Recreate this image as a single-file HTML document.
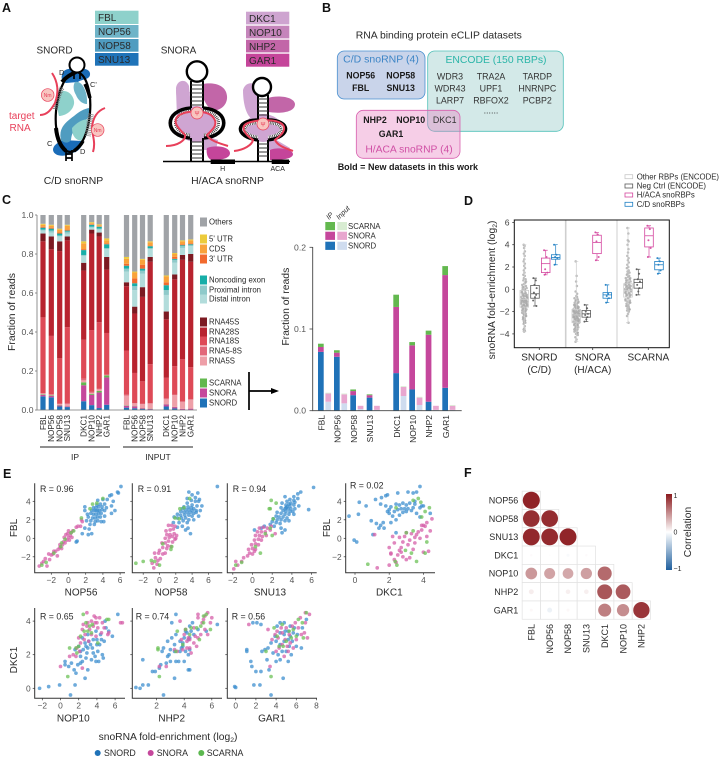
<!DOCTYPE html>
<html lang="en">
<head>
<meta charset="utf-8">
<title>snoRNP eCLIP figure</title>
<style>
html,body{margin:0;padding:0;background:#fff;width:720px;height:759px;overflow:hidden}
svg{display:block;filter:blur(.3px)}
text{font-family:"Liberation Sans",sans-serif;fill:#2a2a2a}
.pl{font-size:12.5px;font-weight:bold;fill:#111}
.t95{font-size:10px}
.b{font-weight:bold;font-size:8.8px;text-anchor:middle;fill:#1a1a1a}
.r{font-size:8.9px;text-anchor:middle;fill:#333}
</style>
</head>
<body>
<svg id="fig" xmlns="http://www.w3.org/2000/svg" width="720" height="759" viewBox="0 0 720 759">
<defs>
<linearGradient id="cbar" x1="0" y1="0" x2="0" y2="1">
<stop offset="0" stop-color="#8b1a1e"/><stop offset="0.5" stop-color="#ffffff"/><stop offset="1" stop-color="#1f5f9e"/>
</linearGradient>
</defs>
<rect width="720" height="759" fill="#fff"/>

<!-- Panel letters -->
<text class="pl" x="2" y="12">A</text>
<text class="pl" x="322" y="12">B</text>
<text class="pl" x="2" y="204">C</text>
<text class="pl" x="464" y="205">D</text>
<text class="pl" x="3" y="478">E</text>
<text class="pl" x="464" y="477">F</text>

<!-- Panel A -->
<g>
<g>
<rect x="95" y="10.7" width="43.5" height="13.3" fill="#8ed1cb"/>
<rect x="95" y="25" width="43.5" height="12.7" fill="#6fb4c8"/>
<rect x="95" y="39" width="43.5" height="12.7" fill="#4f9cc0"/>
<rect x="95" y="53" width="43.5" height="12.7" fill="#1f73b8"/>
<text class="t95" x="98" y="21">FBL</text><text class="t95" x="98" y="35">NOP56</text><text class="t95" x="98" y="49">NOP58</text><text class="t95" x="98" y="63">SNU13</text>
</g>
<g>
<rect x="246" y="11.7" width="43.3" height="12.7" fill="#cea4d0"/>
<rect x="246" y="25.7" width="43.3" height="12.7" fill="#c585bb"/>
<rect x="246" y="39.7" width="43.3" height="12.7" fill="#c266a8"/>
<rect x="246" y="53.7" width="43.3" height="13" fill="#c5459a"/>
<text class="t95" x="249" y="22">DKC1</text><text class="t95" x="249" y="36">NOP10</text><text class="t95" x="249" y="50">NHP2</text><text class="t95" x="249" y="64">GAR1</text>
</g>
<text x="36.5" y="53.5" font-size="10">SNORD</text>
<text x="160.7" y="53.5" font-size="10">SNORA</text>
<text x="73.5" y="184" font-size="10.4" text-anchor="middle">C/D snoRNP</text>
<text x="227.5" y="184" font-size="10.4" text-anchor="middle">H/ACA snoRNP</text>
<text x="9" y="119" font-size="10" style="fill:#e8405a">target</text>
<text x="9.5" y="131" font-size="10" style="fill:#e8405a">RNA</text>

<g>
<path d="M62,75C62,69 72,67 78,70C84,67 91,70 90,75C89,80 82,79 78,82L66,83C62,82 61,78 62,75Z" fill="#1a6cb8"/>
<path d="M53,150C53,145 58,143 62,140L83,141C82,148 78,152 72,153C66,157 54,157 53,150Z" fill="#1a6cb8"/>
<path d="M60,92C68,88 75,97 74,104C72,113 63,116 59,116C57,108 56,98 60,92Z" fill="#8ed1cb"/>
<path d="M75,82C82,80 88,92 87,104C82,104 78,100 76,95C73,90 73,85 75,82Z" fill="#6fb4c8"/>
<path d="M61,140C58,128 66,122 74,116C80,111 84,109 89,108L89,118C80,122 72,128 71,140C68,144 64,143 61,140Z" fill="#4f9cc0"/>
<path d="M72,128C77,122 85,118 88,120C90,127 88,134 84,140C78,142 72,138 72,128Z" fill="#8ed1cb"/>
<ellipse cx="73" cy="112" rx="17" ry="40" transform="rotate(5 73 112)" fill="none" stroke="#000" stroke-width="2.2"/>
<path d="M62,82C66,77 70,75 76,72" fill="none" stroke="#000" stroke-width="4"/>
<path d="M85,84C88,90 89,94 90,98" fill="none" stroke="#000" stroke-width="3.5"/>
<path d="M56,128C57,138 60,146 66,151" fill="none" stroke="#000" stroke-width="4"/>
<path d="M74,151C78,148 81,145 83,141" fill="none" stroke="#000" stroke-width="3.5"/>
<circle cx="77" cy="65" r="7.5" fill="#fff" stroke="#000" stroke-width="2"/>
<path d="M74,72V79M80,72V79M66,150V161M72,150V161M66,154H72M66,158H72" stroke="#000" stroke-width="1.7" fill="none"/>
<path d="M62,88C58,95 57,102 55,110" fill="none" stroke="#666" stroke-width="5" stroke-dasharray=".8 1"/>
<path d="M91,114C89,122 89,128 88,136" fill="none" stroke="#888" stroke-width="6" stroke-dasharray=".8 1"/>
<path d="M52,73C58,82 59,92 55,103C51,110 47,115 40,115" fill="none" stroke="#e8405a" stroke-width="2"/>
<path d="M105,108C97,111 93,118 92,127C92,135 96,142 93,152" fill="none" stroke="#e8405a" stroke-width="2"/>
<circle cx="47.7" cy="95" r="6.3" fill="#f8c5c0" stroke="#e8405a" stroke-width=".7"/>
<circle cx="97.7" cy="130" r="6.3" fill="#f8c5c0" stroke="#e8405a" stroke-width=".7"/>
<text x="47.7" y="97" font-size="5" text-anchor="middle" style="fill:#e8405a">Nm</text>
<text x="97.7" y="132" font-size="5" text-anchor="middle" style="fill:#e8405a">Nm</text>
<text x="59" y="75" font-size="7.5">D</text><text x="90" y="87" font-size="7.5">C'</text><text x="47" y="146" font-size="7.5">C</text><text x="80" y="154" font-size="7.5">D</text>
</g>

<g>
<path d="M176,88C177,80 186,78 189,86L191,108C183,112 176,106 176,88Z" fill="#cfa5d2"/>
<ellipse cx="196" cy="124" rx="20" ry="18" fill="#cfa5d2"/>
<path d="M176,90L190,92L186,120L177,118Z" fill="#cfa5d2"/>
<path d="M203,84C212,82 226,84 227,96C228,106 218,112 212,110C208,108 205,102 203,98Z" fill="#c266a8"/>
<path d="M203,135L218,140L216,150L203,150Z" fill="#cfa5d2"/>
<path d="M207,148C215,145 229,146 230,153C230,159 220,160 212,160C207,159 206,152 207,148Z" fill="#c5459a"/>
<path d="M191,108C163,110 164,136 190,138" fill="none" stroke="#000" stroke-width="3.6"/>
<path d="M203,108C231,110 230,136 204,138" fill="none" stroke="#000" stroke-width="3.6"/>
<path d="M191,111C170,113 171,133 190,135" fill="none" stroke="#fff" stroke-width="3"/>
<path d="M203,111C224,113 223,133 204,135" fill="none" stroke="#fff" stroke-width="3"/>
<path d="M191,111C170,113 171,133 190,135" fill="none" stroke="#333" stroke-width="3" stroke-dasharray=".8 1"/>
<path d="M203,111C224,113 223,133 204,135" fill="none" stroke="#333" stroke-width="3" stroke-dasharray=".8 1"/>
<circle cx="197" cy="71.5" r="10.2" fill="#fff" stroke="#000" stroke-width="2.4"/>
<path d="M191,81V108M203,81V108M191,138V162M203,138V162" stroke="#000" stroke-width="2" fill="none"/>
<path d="M191,85H203M191,89H203M191,93H203M191,97H203M191,101H203M191,105H203M191,142H203M191,146H203M191,150H203M191,154H203M191,158H203" stroke="#333" stroke-width="1" fill="none"/>
<path d="M166,146C178,146 186,140 185,135C178,128 172,122 178,116C186,110 205,110 212,116C220,124 212,130 207,135C209,140 218,143 228,146" fill="none" stroke="#e8405a" stroke-width="2"/>
<circle cx="197" cy="113" r="6" fill="#f8c5c0" stroke="#e8405a" stroke-width=".7"/>
<text x="197" y="115.5" font-size="6" text-anchor="middle" style="fill:#e8405a">Ψ</text>
</g>
<g>
<path d="M243,90C245,82 255,80 259,90L258,118C250,124 243,110 243,90Z" fill="#cfa5d2"/>
<ellipse cx="263" cy="128" rx="19" ry="14" fill="#cfa5d2"/>
<path d="M268,135L290,148L288,152L268,150Z" fill="#cfa5d2"/>
<path d="M268,98C276,95 294,96 295,104C295,112 282,114 268,112Z" fill="#c266a8"/>
<path d="M270,150C276,147 292,148 293,154C293,159 282,160 270,160Z" fill="#c5459a"/>
<path d="M258,120C235,120 234,137 258,140" fill="none" stroke="#000" stroke-width="3.4"/>
<path d="M268,120C291,120 292,137 268,140" fill="none" stroke="#000" stroke-width="3.4"/>
<path d="M258,123C241,123 240,135 258,137" fill="none" stroke="#fff" stroke-width="2.8"/>
<path d="M268,123C285,123 286,135 268,137" fill="none" stroke="#fff" stroke-width="2.8"/>
<path d="M258,123C241,123 240,135 258,137" fill="none" stroke="#333" stroke-width="2.8" stroke-dasharray=".8 1"/>
<path d="M268,123C285,123 286,135 268,137" fill="none" stroke="#333" stroke-width="2.8" stroke-dasharray=".8 1"/>
<circle cx="262" cy="87" r="9" fill="#fff" stroke="#000" stroke-width="2.4"/>
<path d="M258,95V120M268,95V120M258,140V162M268,140V162" stroke="#000" stroke-width="2" fill="none"/>
<path d="M258,99H268M258,103H268M258,107H268M258,111H268M258,115H268M258,144H268M258,148H268M258,152H268M258,156H268" stroke="#333" stroke-width="1" fill="none"/>
<path d="M234,151C244,150 252,145 253,140C246,135 240,128 246,124C253,120 275,118 282,124C288,130 280,136 275,140C278,146 285,148 293,151" fill="none" stroke="#e8405a" stroke-width="2"/>
<circle cx="263" cy="124" r="6" fill="#f8c5c0" stroke="#e8405a" stroke-width=".7"/>
<text x="263" y="126.5" font-size="6" text-anchor="middle" style="fill:#e8405a">Ψ</text>
</g>
<path d="M163,161.5H290" stroke="#000" stroke-width="1.5"/>
<rect x="210.7" y="159.5" width="24.3" height="4.5" fill="#000"/>
<rect x="271.7" y="159.5" width="17.3" height="4.5" fill="#000"/>
<text x="222.7" y="171" font-size="7" text-anchor="middle">H</text>
<text x="277.7" y="171" font-size="7" text-anchor="middle">ACA</text>
</g>

<!-- Panel B -->
<g>
<text x="355.7" y="38.5" font-size="10.4">RNA binding protein eCLIP datasets</text>
<rect x="337.3" y="51" width="87.7" height="48" rx="7" fill="#c9d4ea" stroke="#4a90d0" stroke-width=".8"/>
<rect x="427.7" y="51" width="135.6" height="80.3" rx="7" fill="#d3e9e8" stroke="#50c0b8" stroke-width=".8"/>
<rect x="356.3" y="110.3" width="103.7" height="48" rx="7" fill="#e87fc0" fill-opacity=".38" stroke="#d85fae" stroke-width=".8"/>
<text x="381" y="62.5" font-size="10.5" text-anchor="middle" style="fill:#3d85c6">C/D snoRNP (4)</text>
<text x="496" y="63" font-size="10.4" text-anchor="middle" style="fill:#2bb5a8">ENCODE (150 RBPs)</text>
<text x="409" y="152.5" font-size="10.3" text-anchor="middle" style="fill:#d050a5">H/ACA snoRNP (4)</text>
<text class="b" x="360.7" y="78.5">NOP56</text><text class="b" x="400.7" y="78.5">NOP58</text>
<text class="b" x="360.7" y="91">FBL</text><text class="b" x="400.7" y="91">SNU13</text>
<text class="r" x="450" y="79.5">WDR3</text><text class="r" x="491" y="79.5">TRA2A</text><text class="r" x="537.3" y="79.5">TARDP</text>
<text class="r" x="450" y="91.7">WDR43</text><text class="r" x="491" y="91.7">UPF1</text><text class="r" x="537.3" y="91.7">HNRNPC</text>
<text class="r" x="450" y="103.5">LARP7</text><text class="r" x="491" y="103.5">RBFOX2</text><text class="r" x="537.3" y="103.5">PCBP2</text>
<text class="r" x="491" y="113.5">......</text>
<text class="b" x="375" y="123">NHP2</text><text class="b" x="410.7" y="123">NOP10</text><text class="r" x="444.7" y="123">DKC1</text>
<text class="b" x="391" y="137">GAR1</text>
<text x="337.7" y="170" font-size="9" font-weight="bold" style="fill:#1a1a1a">Bold = New datasets in this work</text>
</g>

<g id="panelC"></g>
<g id="panelC2"></g>
<g id="panelD"></g>
<g id="panelE"></g>
<g id="panelF"></g>
</svg>

<script>
// ---------- Panel C data: fraction of reads per sample (8 IP then 8 INPUT) ----------
const sampleNames = ['FBL','NOP56','NOP58','SNU13','DKC1','NOP10','NHP2','GAR1','FBL','NOP56','NOP58','SNU13','DKC1','NOP10','NHP2','GAR1'];
const readsSnord = [.07,.065,.018,.015,.045,.025,.01,.027,.012,.009,.005,.003,.018,.008,.001,.001];
const readsSnora = [.008,.007,.005,.003,.082,.053,.08,.14,.01,.01,.004,.003,.011,.007,.005,.006];
const readsScarna = [.003,.003,.002,.001,.015,.005,.008,.01,.002,.001,.001,.001,.001,.001,0,0];
const readsRna5s = [.003,.003,.005,.012,.01,.005,.008,.003,.05,.015,.02,.025,.025,.06,.035,.045];
const readsRna58s = [.002,.002,.002,.005,.008,.005,.004,.002,.005,0,.003,.003,.005,.002,.004,.003];
const readsRna18s = [.389,.30,.233,.389,.20,.317,.34,.213,.226,.155,.114,.20,.105,.147,.215,.165];
const readsRna28s = [.39,.445,.55,.445,.355,.495,.44,.325,.33,.305,.433,.525,.30,.445,.51,.54];
const readsRna45s = [.04,.065,.05,.02,.04,.02,.02,.065,.02,.035,.05,.025,.04,.025,.025,.04];
const readsDistal = [.015,.02,.025,.015,.035,.01,.015,.04,.055,.085,.07,.04,.085,.06,.035,.04];
const readsProximal = [.005,.01,.005,.01,.005,.005,.005,.005,.015,.02,.015,.005,.025,.015,.01,.005];
const readsNoncoding = [.01,.01,.01,.005,.025,.01,.01,.02,.015,.015,.01,.01,.025,.005,.005,.005];
const reads3utr = [.005,.005,.005,.005,.005,.003,.002,.005,.01,.025,.02,.003,.015,.01,.005,.005];
const readsCds = [.01,.01,.015,.02,.03,.005,.006,.015,.025,.03,.025,.017,.03,.015,.015,.015];
const reads5utr = [.005,.005,.005,.005,.01,.005,.004,.01,.01,.005,.005,.005,.005,.005,.005,.005];
const readsOthers = [.045,.05,.07,.05,.135,.037,.048,.12,.215,.29,.225,.135,.31,.195,.13,.125];
const stackSeries = [readsSnord,readsSnora,readsScarna,readsRna5s,readsRna58s,readsRna18s,readsRna28s,readsRna45s,readsDistal,readsProximal,readsNoncoding,reads3utr,readsCds,reads5utr,readsOthers];
const stackTicks = [0,.2,.4,.6,.8,1];

// ---------- Panel C right data ----------
const snoRbps = ['FBL','NOP56','NOP58','SNU13','DKC1','NOP10','NHP2','GAR1'];
const ipSnord = [.072,.066,.019,.016,.046,.026,.011,.028];
const ipSnora = [.006,.005,.005,.003,.081,.054,.082,.138];
const ipScarna = [.004,.003,.002,.001,.015,.004,.005,.011];
const inputSnord = [.011,.009,.002,.001,.018,.007,.001,.001];
const inputSnora = [.010,.011,.004,.005,.011,.009,.005,.005];
const inputScarna = [.001,.001,0,0,.001,.001,0,.001];
const snoTicks = [0,.1,.2];

// ---------- Panel D data ----------
const groupNames = ['SNORD','SNORA','SCARNA'];
const boxQ1 = [-1.6,-.8,1.5,2.7, -3,-2.5,3.2,-.8, -.7,.1,3.8,1.75];
const boxMedian = [-.9,-.4,2.3,2.85, -2.3,-2.2,4.2,-.5, -.1,.6,4.8,2.2];
const boxQ3 = [-.1,.35,2.8,3.1, -1.8,-1.9,4.85,-.3, .5,.9,5.5,2.5];
const whiskerLow = [-3.8,-1.5,1.3,2.2, -4.7,-2.9,2.6,-1.2, -3,-.5,2.9,1.4];
const whiskerHigh = [4,1,3.5,4, 2.5,-1.4,5.1,.4, 5.5,1.8,5.7,2.8];
const otherSnord = [4,3.9,3.7,3.4,3.2,3,2.7,2.5,2.3,2.1,1.9,1.7,1.5,1.3,1.2,1,.9,.8,.6,.5,.4,.3,.2,.1,0,-.1,-.2,-.3,-.4,-.5,-.5,-.6,-.6,-.7,-.7,-.8,-.8,-.9,-.9,-1,-1,-1,-1.1,-1.1,-1.2,-1.2,-1.3,-1.3,-1.4,-1.4,-1.5,-1.5,-1.6,-1.6,-1.7,-1.8,-1.8,-1.9,-2,-2.1,-2.2,-2.3,-2.4,-2.5,-2.6,-2.7,-2.8,-2.9,-3,-3.1,-3.3,-3.5,-3.6,-3.7,-3.8,.7,.2,0,-.3,-.4,-.6,-.7,-.9,-1,-1.1,-1.2,-1.3,-1.4,-1.5,-1.6,-1.7,-1.9,-2,-2.2,-2.4,-2.6,-2.8,-3];
const otherSnora = [2.5,1.2,.7,.3,-.2,-.4,-.6,-.8,-.9,-1,-1.1,-1.2,-1.3,-1.4,-1.5,-1.5,-1.6,-1.6,-1.7,-1.7,-1.8,-1.8,-1.9,-1.9,-2,-2,-2,-2.1,-2.1,-2.2,-2.2,-2.2,-2.3,-2.3,-2.3,-2.4,-2.4,-2.5,-2.5,-2.5,-2.6,-2.6,-2.7,-2.7,-2.8,-2.8,-2.9,-2.9,-3,-3,-3.1,-3.1,-3.2,-3.2,-3.3,-3.4,-3.5,-3.6,-3.7,-3.8,-3.9,-4,-4.1,-4.3,-4.5,-4.7,-.7,-1,-1.2,-1.4,-1.6,-1.7,-1.9,-2,-2.1,-2.2,-2.3,-2.4,-2.5,-2.6,-2.7,-2.8,-3,-3.2,-3.4,-3.6,-3.9];
const otherScarna = [5.5,5,4.4,4.3,4,3.6,3.3,3,2.8,2.6,2.4,2.2,2,1.9,1.7,1.6,1.5,1.3,1.2,1.1,1,.9,.8,.7,.6,.5,.5,.4,.3,.3,.2,.1,.1,0,0,-.1,-.1,-.2,-.3,-.3,-.4,-.5,-.5,-.6,-.7,-.8,-.9,-1,-1.1,-1.2,-1.3,-1.4,-1.5,-1.6,-1.7,-1.8,-1.9,-2,-2.2,-2.4,-3,1.4,1,.8,.6,.4,.2,0,-.2,-.4,-.6,-.8,-1,-1.2,-1.5,-1.8];
const negSnord = [1,.8,.4,.1,-.3,-.5,-.7,-1,-1.5];
const hacaSnord = [3.5,2.9,1.8,1.5,1.3];
const cdSnord = [4,3.1,2.9,2.8,2.2];
const negSnora = [-1.4,-1.7,-2,-2.2,-2.3,-2.5,-2.7,-2.9];
const hacaSnora = [5.1,4.9,4.3,2.9,2.6];
const cdSnora = [.4,-.4,-.6,-.8,-1.2];
const negScarna = [1.8,1.4,.9,.7,.4,.1,-.2,-.5];
const hacaScarna = [5.7,5.4,4.4,3.7,2.9];
const cdScarna = [2.8,2.5,2.2,1.7,1.4];
const boxYTicks = [-4,-2,0,2,4,6];

// ---------- Panel E data: [x value, y value] ----------
const nop56Snord = [[1,-.3],[.9,-.4],[1.6,.5],[2.3,.4],[2.7,.5],[1.9,1.1],[2.4,1],[2.5,1.5],[3,1.5],[2.1,1.9],[2.6,1.9],[3.1,1.8],[3.4,1.9],[3.8,1.8],[4.1,1.8],[2.3,2.3],[2.8,2.2],[3.1,2.2],[3.4,2.3],[3.7,2.3],[4.2,2.4],[5,2.7],[5.4,3],[2.2,2.6],[2.6,2.7],[2.9,2.6],[3.2,2.6],[3.5,2.7],[3.8,2.7],[1.9,3.4],[1.9,3],[2.7,3],[3,3],[3.2,3],[3.4,3],[3.6,3],[3.9,3.1],[4.2,3],[2.9,3.3],[3.2,3.3],[3.5,3.4],[3.9,3.4],[4.4,3.3],[3.3,3.6],[3.7,3.7],[4.2,3.7],[5,3.5],[3.4,4.1],[4,4.2],[4.5,4.2],[5.2,4],[4.8,4.6],[5,4.7],[5.8,4.9],[5.7,5],[6.1,5.6]];
const nop56Snora = [[-3.4,-3],[-3.1,-2.7],[-2.9,-2.5],[-2.5,-3],[-2.7,-2.2],[-2.2,-2.3],[-2,-1.8],[-1.8,-1.7],[-1.5,-1.4],[-1.3,-1.9],[-1.2,-1.2],[-1,-1],[-.8,-1.1],[-.7,-.7],[-.6,-.4],[-.4,-.5],[-.5,.1],[-.2,-.2],[0,.1],[.1,-.2],[.2,.3],[-.1,.5],[.3,.6],[.4,.1],[-.3,.4],[0,.8],[.5,.8],[.9,1.2],[1.1,1.3],[1.4,1.3],[1.6,1.8],[1.5,2],[-1,-.7],[-2.3,-1.7],[-1.7,-1.4]];
const nop56Scarna = [[-3.1,-2.9],[-2.6,-2.6],[-1.7,-1.6],[-.9,-.9],[-.8,-.5],[-.4,-.1],[.3,.6],[.6,.8],[1.5,2.2],[2.5,3.2],[4,4.3],[3.3,3.8],[2.8,3.7]];
const nop58Snord = [[7.1,5.6],[4.7,4.9],[3.6,5],[4,4.7],[4.4,4.4],[3.4,4.3],[4.9,4.2],[4.4,4],[4.8,4],[3.9,4.1],[3.4,3.8],[4,3.6],[4.6,3.5],[3,3.4],[3.5,3.4],[3.9,3.3],[4.2,3.2],[2.8,3.2],[3.2,3.1],[3.6,3.1],[4,3],[4.5,3],[5,3],[2.6,2.9],[3,2.8],[3.4,2.8],[3.8,2.8],[4.2,2.7],[2.2,2.6],[2.6,2.5],[3.1,2.5],[3.6,2.5],[4,2.4],[4.8,2.4],[1.8,2.3],[2.2,2.2],[2.7,2.2],[3.2,2.2],[3.6,2],[4.2,2],[2.9,1.9],[1.7,1.7],[2.4,1.7],[3.4,1.7],[2.8,1.3],[3.5,1.1],[3.2,.9],[3.8,.5],[2.2,1.2],[4.5,2.8],[5.2,3.5]];
const nop58Snora = [[-.7,-3.2],[-.3,-2.8],[-.9,-2.7],[-.2,-2.4],[-.5,-2.1],[.1,-2.2],[-.6,-1.6],[.4,-1.7],[.7,-1.6],[0,-1.3],[.4,-1],[.9,-1.1],[1,-.8],[.3,-.5],[.7,-.5],[1.1,-.3],[1.6,-.4],[.7,0],[1.2,.1],[1.6,.2],[2,0],[.9,.4],[1.3,.4],[1.8,.5],[2.1,.3],[.8,.8],[1.3,.9],[1.7,1],[1.1,1.4],[1.5,1.4],[1.9,1.3],[1.4,-.9],[-.1,-1.6],[1.9,-.1]];
const nop58Scarna = [[-2.9,-2.7],[-2,-2.5],[-1,-2.4],[-.6,-2.5],[0,-2.9],[.4,-.6],[1.5,-.9],[1.4,-1.2],[2.4,2.1],[2.5,3.2],[3,3.3],[3.7,4.3],[1.9,2.2]];
const snu13Snord = [[6.2,5.5],[5.7,3.1],[4.9,5],[4.6,4.8],[4.2,4.5],[4.6,4.3],[3.3,4.5],[3.8,4.2],[4.2,4.1],[3.5,4],[3.9,3.8],[4.3,3.9],[3,3.8],[3.4,3.6],[3.8,3.5],[4.2,3.6],[4.7,3.5],[2.9,3.3],[3.3,3.2],[3.6,3.2],[3.9,3.2],[4.3,3.2],[3.1,3],[3.4,2.9],[3.8,2.9],[4.1,2.9],[2.5,2.8],[2.9,2.7],[3.3,2.6],[3.7,2.6],[4.2,2.6],[2.4,2.4],[2.7,2.3],[3.1,2.3],[3.5,2.2],[2.1,2.1],[2.5,2],[2.9,2],[3.3,1.9],[3.7,1.9],[2,1.8],[2.4,1.7],[2.8,1.6],[1.8,1.5],[2.2,1.3],[2.9,1.1],[3,.6],[3.3,.9],[1.2,1.3],[.9,1.1],[.2,.9],[3.5,3.4],[3.7,3.7],[3.4,3.3]];
const snu13Snora = [[-1.9,-3.3],[-1.5,-2.9],[-1.7,-2.5],[-1.1,-2.5],[-.9,-2.1],[-.5,-1.9],[-.3,-1.6],[0,-1.7],[-.4,-1.2],[0,-1.1],[.3,-1.2],[-.1,-.7],[.3,-.6],[.6,-.7],[.2,-.2],[.6,-.1],[.9,-.2],[.3,.3],[.7,.3],[1,.2],[1.4,.3],[.5,.7],[.9,.7],[1.3,.7],[.7,1.1],[1.1,1.2],[1.5,1.1],[1.8,.9],[2.3,.5],[1.9,1.3],[.2,-1.4]];
const snu13Scarna = [[-1.7,-2.9],[-1.1,-2.6],[.8,-1.6],[.3,-.9],[1.3,.5],[1.8,1.1],[2,.3],[2.1,2.1],[1.9,4.1],[2.4,3.8],[1.7,3.2],[1.8,3.2]];
const dkc1Snord = [[-.35,2.4],[.25,3.9],[.2,2.6],[.65,3.5],[1.2,4.2],[1.5,3.7],[1.55,4.4],[1.8,4.6],[1.9,4.7],[2.5,4.9],[3.1,5],[3.4,4.9],[3.6,5],[3.8,5.6],[.95,1.9],[1.25,1.6],[1.5,1.4],[1.65,1.7],[1.4,1.1],[1.7,1.1],[1.8,3.5],[1.9,2.9],[2,3.1],[2,2.7],[2.1,3.4],[2.2,2.4],[2.3,2.9],[2.4,3.7],[2.4,2],[2.5,3.1],[2.6,2.5],[2.6,3.6],[2.7,3.2],[2.8,2.8],[2.8,3.8],[2.9,3.2],[3,3.6],[3,2.9],[3.1,3.2],[3.2,3.8],[3.3,3],[3.4,3.3],[3.5,4],[3.5,3.7],[3.6,2.7],[3.8,3.3],[3.9,3.5],[4,3.5],[4.4,2.7],[-.05,-.2],[.1,-.4],[2.4,.6],[1.05,.4],[3.8,2.3],[2.1,1.7]];
const dkc1Snora = [[1.15,.4],[2.2,.2],[2.3,-.5],[2,-1],[2.1,-1.7],[2.5,-1.8],[2.3,-2.3],[2,-2.9],[2.4,-2.6],[2.7,-1.5],[2.8,-2],[3,-2.3],[3.2,-2.1],[2.7,-1],[2.8,-.4],[2.9,.2],[3,.6],[3.1,-.7],[3.2,-.2],[3.4,-1.2],[3.5,-.5],[3.5,.1],[3.6,.4],[3.7,.7],[3.8,0],[3.9,.9],[4,-1.5],[4,1.4],[4.1,1.3],[4.2,1.7],[4.2,.2],[4.3,-1.4],[4.5,2.1],[4.4,.8],[3.9,1.4],[1.3,-3.2],[2.1,-1.6],[2.6,-1.3],[3.3,.5],[2.6,.1]];
const dkc1Scarna = [[.75,-2.8],[2.35,-2.5],[2.45,-2.9],[3,.6],[2.95,-1.3],[3.3,-1.6],[3.4,.8],[3.6,-2.5],[4.1,-1.6],[4.2,-.4],[3.4,4.1],[3.7,4.3],[3.85,3.9],[4.1,2.9],[4.35,3.3],[3.9,2.3],[2.4,3.3]];
const nop10Snord = [[-2.3,0],[-1.3,.1],[-.1,.2],[1.1,-.4],[1.6,.2],[2.7,.6],[.9,1.3],[.5,1.6],[.5,1.4],[1.2,1.5],[1.5,1.1],[1.7,.9],[1.9,1.4],[2.2,1.5],[2.4,1.6],[2.8,1.8],[3,1.1],[3.4,1.7],[3.9,1.6],[4.2,1.6],[4.7,1.8],[4.6,2],[4.1,2.2],[3.6,2.1],[2.9,2.1],[2.2,1.9],[2.5,2.3],[3,2.4],[3.5,2.4],[4,2.6],[4.3,2.6],[4.8,2.8],[2,2.5],[2.7,2.7],[3.1,2.8],[3.6,2.9],[4.5,2.9],[5.7,3.1],[5.3,3.4],[5,3.6],[4.9,4],[6.3,4.4],[2.4,3],[3,3.2],[3.9,3.4],[4.4,3.2],[2.2,2.2],[3.3,2.6],[4,2.9],[3.8,1.9],[1.6,2.3],[2.8,2.5]];
const nop10Snora = [[0,1.3],[1,1.9],[1.4,2],[2.4,1.2],[1.8,2.4],[2.2,2.7],[2,3],[2.4,3.5],[2.7,3.2],[2.9,3.7],[2.6,2.9],[3,3.9],[3.1,2.8],[3.2,3.5],[3.4,3.2],[3.4,4],[3.6,3.7],[3.7,4.3],[3.9,4.2],[3.9,3.1],[4,3.9],[4.1,3.6],[4.3,4.2],[4.5,3.3],[4.6,3.9],[4.8,3.6],[5.2,3.2],[5.3,3.3],[6.6,3.9],[6.8,3.9],[2.9,4.5],[3.8,3.9],[2.1,2.2],[2.5,3.8],[1.7,1.9]];
const nop10Scarna = [[.8,.7],[1,2.4],[1.7,2.4],[1.8,2.1],[2,2.5],[2.2,3.1],[2.5,4.4],[2.6,3.4],[2.8,3.9],[3,3.4],[3.2,3.7],[3.4,3.3],[3.5,3.8],[4.1,2.7],[5.1,4.1],[5.3,4.1]];
const nhp2Snord = [[.5,.05],[.8,0],[1,.2],[1.4,.2],[2.5,-.4],[1,1.7],[1.7,1],[1.9,1],[2.2,1.2],[2.3,1.4],[2.7,1.5],[3,1.6],[3.3,.6],[3.4,1.6],[3.6,1.6],[4,1.6],[4.3,1.1],[4.4,1.1],[2.4,2.2],[2.5,2.4],[2.9,2],[3,2.3],[3.3,2.2],[3.7,2.2],[3.9,2.5],[4.1,2.2],[4.4,2.3],[2.8,2.8],[3.1,3],[3.4,3.2],[3.7,2.8],[4,3],[4.2,3.3],[4.5,3.4],[4.7,3.2],[3.1,3.9],[3.4,4.4],[4.1,3.4],[4.4,3.7],[4.6,3.9],[5,3.5],[6.4,3.8],[5.6,3.4],[3.9,2.7],[4.3,2.9],[4.4,3],[3.3,2.6],[4.3,2],[2.8,1.9],[3.8,2.4]];
const nhp2Snora = [[3.7,4],[2.7,1.3],[2.2,1.3],[3.5,2.2],[3.9,2.3],[4.2,2.4],[4.5,2.1],[4.2,2.8],[4.7,2.7],[3.8,2.9],[4.4,2.9],[4.9,2.5],[5,3],[5.2,3.2],[5.5,3.5],[5.7,3.2],[4.1,3.5],[4.7,3.6],[5,4.2],[5.3,3.9],[5.4,4.1],[5.9,3.9],[6,4.2],[5.7,4.5],[5,4.4],[5.5,4.3],[4.8,3.1],[3.3,2.3],[4,3.2],[4.4,2.4],[4.3,3]];
const nhp2Scarna = [[2.2,.7],[2.1,2.4],[2.1,2.3],[3.4,2.2],[3.9,2.6],[4.4,3.2],[4.5,3.6],[4.9,3.6],[5.1,2.9],[5.2,3.7],[5.4,3.9],[5.6,4.4],[5.4,4.3],[4.1,3.5],[3.5,3.4],[5.9,3.5]];
const gar1Snord = [[-.1,.1],[0,.05],[1.8,.2],[2.4,.2],[3.5,-.4],[4.7,.6],[1.1,2.3],[1.1,2.2],[1.5,1.6],[1.6,1.3],[2,1],[2.5,1],[3.1,1.7],[3.3,1.1],[4,1.6],[4.4,1.7],[5.2,1.6],[5.5,2],[2.6,2.2],[3.2,2.4],[3.7,2.1],[4.2,2],[4.6,2.2],[5,2.2],[5.3,2.5],[3.5,2.7],[4,2.8],[4.4,2.6],[4.8,2.8],[5.2,2.9],[5.6,2.8],[6,2.5],[6.5,2.4],[3.9,3.1],[4.4,3.3],[4.8,3.2],[5.2,3.4],[5.7,3.3],[6.1,3.2],[4.1,3.7],[4.4,3.9],[4.8,3.9],[5.4,3.7],[6.6,3.6],[4.9,3.4],[5.4,3.1],[5.8,3.6],[2.9,2.3],[7,4.1],[2.1,3.9],[2.5,3.8],[1.7,3.9]];
const gar1Snora = [[1.3,3.8],[3.2,3.5],[3.6,2.9],[3.4,1.3],[4,2.2],[4.3,2.4],[4.6,2.6],[4.9,2.9],[5.1,2.5],[5.4,2.7],[4.2,3],[4.6,3.3],[5,3.6],[5.3,3.2],[5.6,3.7],[5.9,3.9],[6.2,3.6],[6.5,3.2],[6.8,3.3],[7.1,3],[6,2.9],[5.7,2.4],[4.1,3.4],[4.5,3.6],[6.4,4.2],[6.9,3.9],[7.3,4.4],[6.9,4.5],[5.2,2.2],[3.9,3.2],[4.8,1.9]];
const gar1Scarna = [[3.5,.7],[3.8,3.6],[3,2.2],[4.3,2.5],[4.7,2.5],[5,2.8],[5.3,3.4],[5.5,3],[5.7,3.5],[6,3.1],[6.2,4.1],[6.6,3.9],[7,4.5],[4.6,3.8],[4.1,3.1],[6.7,3]];
const fblTicks = [-2,0,2,4];
const dkc1Ticks = [0,2,4];
const xTicksNop56 = [-2,0,2,4,6];
const xTicksDkc1 = [0,2,4];
const xTicksNop10 = [-2,0,2,4,6];
const xTicksNhp2 = [2,4,6];
const xTicksGar1 = [0,2,4,6,8];

// ---------- Panel F data ----------
const corrRows = ['NOP56','NOP58','SNU13','DKC1','NOP10','NHP2','GAR1'];
const corrCols = ['FBL','NOP56','NOP58','SNU13','DKC1','NOP10','NHP2'];
const corrNop56 = [.96];
const corrNop58 = [.91,.92];
const corrSnu13 = [.94,.93,.95];
const corrDkc1 = [.02,.01,-.03,.02];
const corrNop10 = [.45,.40,.38,.42,.65];
const corrNhp2 = [.08,.01,.07,.07,.74,.72];
const corrGar1 = [.03,-.08,.03,0,.56,.50,.88];
const corrMatrix = [corrNop56,corrNop58,corrSnu13,corrDkc1,corrNop10,corrNhp2,corrGar1];

// ---------- helpers ----------
const NS = 'http://www.w3.org/2000/svg';
function mk(parent, tag, attrs, txt){
  const e = document.createElementNS(NS, tag);
  for (const k in attrs) e.setAttribute(k, attrs[k]);
  if (txt !== undefined) e.textContent = txt;
  parent.appendChild(e);
  return e;
}
function scale(d0,d1,r0,r1){ return v => r0 + (v-d0)*(r1-r0)/(d1-d0); }
const GRAY = '#555';

// ---------- Panel C left ----------
(function(){
  const g = document.getElementById('panelC');
  const y = scale(0,1,410,215);
  const centers = [43,51.3,59.7,67.3,83.7,91.7,99.2,106.7,126.5,134.7,142.5,150.2,166.3,174.7,182.5,190.7];
  const cols = ['#1f72b8','#c5479c','#63b84f','#ee9fa8','#e2687a','#de4a57','#b8232f','#7c1a22','#b2dcdb','#8fcaca','#17aea8','#f26a2e','#f9a23a','#eccb3b','#a0a3a7'];
  centers.forEach((cx,i)=>{
    let base = 0;
    stackSeries.forEach((s,j)=>{
      const top = base + s[i];
      const r = mk(g,'rect',{x:cx-2.6,y:y(top),width:5.2,height:Math.max(0,y(base)-y(top)),fill:cols[j]});
      
      
      base = top;
    });
    const t = mk(g,'text',{transform:`translate(${cx+2.8},415) rotate(-90)`,'text-anchor':'end','font-size':8.2},sampleNames[i]);
    
    
  });
  mk(g,'path',{d:'M37,215V410H197',stroke:'#777','stroke-width':.8,fill:'none'});
  stackTicks.forEach(v=>{
    mk(g,'path',{d:`M35,${y(v)}H37`,stroke:'#777','stroke-width':.8});
    const t = mk(g,'text',{x:33.5,y:y(v)+3,'text-anchor':'end','font-size':8.6,style:'fill:'+GRAY},v.toFixed(1));
    
    
  });
  const yl = mk(g,'text',{transform:'translate(15,312) rotate(-90)','text-anchor':'middle','font-size':10.4},'Fraction of reads');
  
  
  mk(g,'path',{d:'M40,447H110M123,447H193',stroke:'#222','stroke-width':.9});
  mk(g,'text',{x:75,y:460,'text-anchor':'middle','font-size':8.5},'IP');
  mk(g,'text',{x:158,y:460,'text-anchor':'middle','font-size':8.5},'INPUT');
  const legendLabels = ['Others',"5' UTR",'CDS',"3' UTR",'Noncoding exon','Proximal intron','Distal intron','RNA45S','RNA28S','RNA18S','RNA5-8S','RNA5S','SCARNA','SNORA','SNORD'];
  const legendIdx = [14,13,12,11,10,9,8,7,6,5,4,3,2,1,0];
  const legendY = [222,239,249,259,280,290,299,322,332,341,351,361,383,393,403];
  legendLabels.forEach((l,i)=>{
    const s = mk(g,'rect',{x:200,y:legendY[i]-4.5,width:7,height:9,fill:cols[legendIdx[i]]});
    
    
    const t = mk(g,'text',{x:209,y:legendY[i]+2.6,'font-size':7.8},l);
    
    
  });
  const arrow = mk(g,'path',{d:'M249,372V410M249,391H272',stroke:'#000','stroke-width':1.7,fill:'none'});
  
  
  mk(g,'path',{d:'M271,388L279,391L271,394Z',fill:'#000'});
})();

// ---------- Panel C right ----------
(function(){
  const g = document.getElementById('panelC2');
  const y = scale(0,.2,410.7,247.3);
  const starts = [318,334,350.3,366.7,393.3,409.3,425.7,442.3];
  const w = 5.7;
  const ipCols = ['#1f72b8','#c5479c','#63b84f'];
  const inCols = ['#cfdcef','#e8a6cf','#d8ecd2'];
  snoRbps.forEach((n,i)=>{
    let b = 0;
    [ipSnord,ipSnora,ipScarna].forEach((s,j)=>{
      const r = mk(g,'rect',{x:starts[i],y:y(b+s[i]),width:w,height:y(b)-y(b+s[i]),fill:ipCols[j]});
      
      
      b += s[i];
    });
    b = 0;
    [inputSnord,inputSnora,inputScarna].forEach((s,j)=>{
      const r = mk(g,'rect',{x:starts[i]+w+1.7,y:y(b+s[i]),width:w,height:y(b)-y(b+s[i]),fill:inCols[j]});
      
      
      b += s[i];
    });
    const t = mk(g,'text',{transform:`translate(${starts[i]+6.5},415) rotate(-90)`,'text-anchor':'end','font-size':8.5},n);
    
    
  });
  mk(g,'path',{d:'M312.7,247V410.7H461.7',stroke:'#444','stroke-width':.9,fill:'none'});
  snoTicks.forEach(v=>{
    mk(g,'path',{d:`M309.5,${y(v)}H312.7`,stroke:'#444','stroke-width':.8});
    const t = mk(g,'text',{x:306,y:y(v)+3,'text-anchor':'end','font-size':8.6,style:'fill:'+GRAY},v.toFixed(1));
    
    
  });
  const yl = mk(g,'text',{transform:'translate(289,306.7) rotate(-90)','text-anchor':'middle','font-size':10.4},'Fraction of reads');
  
  
  const labs = ['SCARNA','SNORA','SNORD'];
  const ly = [222,231.7,241.7];
  const lip = ['#63b84f','#c5479c','#1f72b8'];
  const lin = ['#d8ecd2','#e8a6cf','#cfdcef'];
  labs.forEach((l,i)=>{
    mk(g,'rect',{x:325.3,y:ly[i],width:9.7,height:8.2,fill:lip[i]});
    mk(g,'rect',{x:337.3,y:ly[i],width:9.7,height:8.2,fill:lin[i]});
    const t = mk(g,'text',{x:348,y:ly[i]+6.8,'font-size':7.8},l);
    
    
  });
  mk(g,'text',{transform:'translate(329,220) rotate(-45)','font-size':7.2,'font-style':'italic'},'IP');
  mk(g,'text',{transform:'translate(339,220) rotate(-45)','font-size':7.2,'font-style':'italic'},'Input');
})();

// ---------- Panel D ----------
(function(){
  const g = document.getElementById('panelD');
  const y = scale(0,2,289.3,267);
  const xs = [524.3,535,545.7,555.7, 576.3,586.3,597,607.3, 628,638.3,649,659];
  const cols = ['#cdcdcd','#5a5a5a','#d4479f','#1f7fc4'];
  const dots = [otherSnord,negSnord,hacaSnord,cdSnord,otherSnora,negSnora,hacaSnora,cdSnora,otherScarna,negScarna,hacaScarna,cdScarna];
  const jitter = [-3,1.5,-1,3,-2,2,0,-3.4,2.6,-.6,3.4,-2.4,.8];
  mk(g,'rect',{x:514.3,y:220,width:155,height:127.7,fill:'#fff'});
  mk(g,'path',{d:'M565.7,220V347.7',stroke:'#cfcfcf','stroke-width':1.6});
  mk(g,'path',{d:'M617,220V347.7',stroke:'#cfcfcf','stroke-width':1});
  xs.forEach((cx,i)=>{
    const k = i%4, c = cols[k];
    const med = boxMedian[i];
    dots[i].forEach((v,j)=>{
      const spread = k===0 ? Math.max(.2,1-Math.abs(v-med)/3.2) : .55;
      const p = mk(g,'circle',{cx:cx+jitter[j%jitter.length]*spread,cy:y(v),r:k===0?1.25:1,fill:k===0?'#aaaaaa':c,'fill-opacity':k===0?.8:.9});
      
      
    });
    const l = mk(g,'path',{d:`M${cx},${y(whiskerLow[i])}V${y(boxQ1[i])}M${cx},${y(boxQ3[i])}V${y(whiskerHigh[i])}M${cx-2},${y(whiskerLow[i])}H${cx+2}M${cx-2},${y(whiskerHigh[i])}H${cx+2}`,stroke:c,'stroke-width':.7,fill:'none'});
    
    
    const b = mk(g,'rect',{x:cx-4.3,y:y(boxQ3[i]),width:8.6,height:y(boxQ1[i])-y(boxQ3[i]),fill:'none',stroke:c,'stroke-width':.8});
    
    
    mk(g,'path',{d:`M${cx-4.3},${y(med)}H${cx+4.3}`,stroke:c,'stroke-width':.8});
  });
  const frame = mk(g,'rect',{x:514.3,y:220,width:155,height:127.7,fill:'none',stroke:'#111','stroke-width':1});
  
  
  boxYTicks.forEach(v=>{
    mk(g,'path',{d:`M512.3,${y(v)}H514.3`,stroke:'#333','stroke-width':.8});
    const t = mk(g,'text',{x:509.5,y:y(v)+3,'text-anchor':'end','font-size':8.6,style:'fill:#444'},v<0?'\u2212'+Math.abs(v):String(v));
    
    
  });
  const yl = mk(g,'text',{transform:'translate(495,290) rotate(-90)','text-anchor':'middle','font-size':10.3});
  
  
  mk(yl,'tspan',{},'snoRNA fold-enrichment (log');
  mk(yl,'tspan',{dy:2,'font-size':6.8},'2');
  mk(yl,'tspan',{dy:-2},')');
  const gx = [539.3,592.7,648.3];
  const sub = ['(C/D)','(H/ACA)',''];
  groupNames.forEach((n,i)=>{
    mk(g,'path',{d:`M${gx[i]},347.7V350`,stroke:'#333','stroke-width':.8});
    const t = mk(g,'text',{x:gx[i],y:360.5,'text-anchor':'middle','font-size':10},n);
    
    
    if (sub[i]) mk(g,'text',{x:gx[i],y:373,'text-anchor':'middle','font-size':10},sub[i]);
  });
  const labs = ['Other RBPs (ENCODE)','Neg Ctrl (ENCODE)','H/ACA snoRBPs','C/D snoRBPs'];
  const ly = [176.7,186,195,204.3];
  const lc = ['#c8c8c8','#5a5a5a','#d4479f','#1f7fc4'];
  labs.forEach((l,i)=>{
    mk(g,'rect',{x:625,y:ly[i]-2,width:7.7,height:4,fill:'#fff',stroke:lc[i],'stroke-width':.8});
    const t = mk(g,'text',{x:636.7,y:ly[i]+2.6,'font-size':7.8},l);
    
    
  });
})();

// ---------- Panel E ----------
(function(){
  const g = document.getElementById('panelE');
  const c = {snord:'#3d8fcf',snora:'#d65fa8',scarna:'#6cc257'};
  const yFbl = scale(0,2,538.3,519.8), yDk = scale(0,2,688.3,654.7);
  function panel(o){
    const x = scale(0,1,o.x0,o.x0+o.k);
    const pg = mk(g,'g',{});
    
    
    [[o.snord,c.snord],[o.snora,c.snora],[o.scarna,c.scarna]].forEach(([pts,col])=>{
      pts.forEach(p=>{
        const m = mk(pg,'circle',{cx:x(p[0]),cy:o.y(p[1]),r:1.85,fill:col,'fill-opacity':.75});
        
        
      });
    });
    mk(pg,'path',{d:`M${o.l},${o.top}V${o.bot}H${o.r}`,stroke:'#333','stroke-width':1,fill:'none'});
    o.xt.forEach(v=>{
      mk(pg,'path',{d:`M${x(v)},${o.bot}v2`,stroke:'#333','stroke-width':.7});
      const t = mk(pg,'text',{x:x(v),y:o.bot+10.2,'text-anchor':'middle','font-size':8.4,style:'fill:'+GRAY},v<0?'\u2212'+Math.abs(v):String(v));
      
      
    });
    o.yt.forEach(v=>{
      mk(pg,'path',{d:`M${o.l-2},${o.y(v)}h2`,stroke:'#333','stroke-width':.7});
      if (o.ylab) {
        const t = mk(pg,'text',{x:o.l-4,y:o.y(v)+3,'text-anchor':'end','font-size':8.4,style:'fill:'+GRAY},v<0?'\u2212'+Math.abs(v):String(v));
        
        
      }
    });
    const xl = mk(pg,'text',{x:o.cx,y:o.bot+23,'text-anchor':'middle','font-size':10},o.name);
    
    
    if (o.ylab) {
      const yl = mk(pg,'text',{transform:`translate(${o.ylx},${o.yly}) rotate(-90)`,'text-anchor':'middle','font-size':10},o.ylab);
      
      
    }
    const rl = mk(pg,'text',{x:o.rx,y:o.ry,'font-size':8.8},o.rt);
    
    
  }
  const T=483.3,B=572.7,T2=608,B2=698.3;
  panel({x0:68.5,k:8.6,y:yFbl,l:34.7,r:125,top:T,bot:B,xt:xTicksNop56,yt:fblTicks,name:'NOP56',cx:81,ylab:'FBL',ylx:17,yly:528,rx:40,ry:492,rt:'R = 0.96',snord:nop56Snord,snora:nop56Snora,scarna:nop56Scarna});
  panel({x0:159.5,k:8.15,y:yFbl,l:132.3,r:222.3,top:T,bot:B,xt:xTicksNop56,yt:fblTicks,name:'NOP58',cx:171,rx:137.7,ry:492,rt:'R = 0.91',snord:nop58Snord,snora:nop58Snora,scarna:nop58Scarna});
  panel({x0:252.5,k:9.85,y:yFbl,l:227.3,r:316.7,top:T,bot:B,xt:xTicksNop56,yt:fblTicks,name:'SNU13',cx:270,rx:232.7,ry:492,rt:'R = 0.94',snord:snu13Snord,snora:snu13Snora,scarna:snu13Scarna});
  panel({x0:355,k:17.1,y:yFbl,l:345.7,r:435,top:T,bot:B,xt:xTicksDkc1,yt:fblTicks,name:'DKC1',cx:389.3,ylab:'FBL',ylx:330,yly:528,rx:350,ry:488.5,rt:'R = 0.02',snord:dkc1Snord,snora:dkc1Snora,scarna:dkc1Scarna});
  panel({x0:60.5,k:9.1,y:yDk,l:34.7,r:125,top:T2,bot:B2,xt:xTicksNop10,yt:dkc1Ticks,name:'NOP10',cx:73.3,ylab:'DKC1',ylx:17,yly:660,rx:40,ry:619.5,rt:'R = 0.65',snord:nop10Snord,snora:nop10Snora,scarna:nop10Scarna});
  panel({x0:129,k:13.8,y:yDk,l:132.3,r:222,top:T2,bot:B2,xt:xTicksNhp2,yt:dkc1Ticks,name:'NHP2',cx:171.7,rx:135.7,ry:619.5,rt:'R = 0.74',snord:nhp2Snord,snora:nhp2Snora,scarna:nhp2Scarna});
  panel({x0:235.7,k:10.1,y:yDk,l:227.3,r:317,top:T2,bot:B2,xt:xTicksGar1,yt:dkc1Ticks,name:'GAR1',cx:271.7,rx:231.7,ry:619.5,rt:'R = 0.56',snord:gar1Snord,snora:gar1Snora,scarna:gar1Scarna});
  const cap = mk(g,'text',{x:168,y:740,'text-anchor':'middle','font-size':10.3});
  
  
  mk(cap,'tspan',{},'snoRNA fold-enrichment (log');
  mk(cap,'tspan',{dy:2,'font-size':6.8},'2');
  mk(cap,'tspan',{dy:-2},')');
  const leg = [['SNORD',97.7,104,'#1f72b8'],['SNORA',150.7,156.7,'#c5479c'],['SCARNA',201.3,206.7,'#5cb84f']];
  leg.forEach(l=>{
    const d = mk(g,'circle',{cx:l[1],cy:753,r:3,fill:l[3]});
    
    
    const t = mk(g,'text',{x:l[2],y:756.2,'font-size':8.8},l[0]);
    
    
  });
})();

// ---------- Panel F ----------
(function(){
  const g = document.getElementById('panelF');
  const col = scale(0,1,531.3,549.65), row = scale(0,1,500.3,518.6);
  const cell = 18.3;
  function colour(v){
    const a = Math.abs(v);
    const t = v>=0 ? [139,26,30] : [31,95,158];
    return `rgb(${t.map(c=>Math.round(255-(255-c)*a)).join(',')})`;
  }
  corrMatrix.forEach((vals,i)=>{
    vals.forEach((v,j)=>{
      const r = mk(g,'rect',{x:col(j)-cell/2,y:row(i)-cell/2,width:cell,height:cell,fill:'#fff',stroke:'#e2e2e2','stroke-width':.7});
      
      
      const c = mk(g,'circle',{cx:col(j),cy:row(i),r:8.7*Math.sqrt(Math.abs(v)),fill:colour(v)});
      
      
    });
    const t = mk(g,'text',{x:518.3,y:row(i)+3.2,'text-anchor':'end','font-size':9},corrRows[i]);
    
    
  });
  corrCols.forEach((n,j)=>{
    const t = mk(g,'text',{transform:`translate(${col(j)+3.2},624) rotate(-90)`,'text-anchor':'end','font-size':9},n);
    
    
  });
  const bar = mk(g,'rect',{x:666,y:494,width:6,height:76,fill:'url(#cbar)'});
  
  
  const cbTicks = [1,0,-1];
  const cbY = scale(1,-1,495.7,568.7);
  cbTicks.forEach(v=>{
    const t = mk(g,'text',{x:673.5,y:cbY(v)+2.4,'font-size':7},v<0?'\u22121':String(v));
    
    
  });
  const ct = mk(g,'text',{transform:'translate(691,532) rotate(-90)','text-anchor':'middle','font-size':10.3},'Correlation');
  
  
})();
</script>
</body>
</html>
